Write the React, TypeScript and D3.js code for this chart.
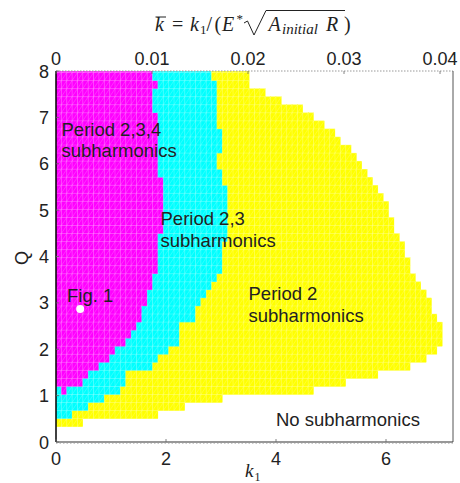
import React from 'react';
import * as d3 from 'd3';

// ---- data ----
const K1_MAX = 7.218;            // bottom axis limit (k1)
const KBAR_FACTOR = 174.55;      // k1 / kbar
const Q_MAX = 8;
const xTicksBottom = [0, 2, 4, 6];
const xTicksTop = [0, 0.01, 0.02, 0.03, 0.04];
const xTickTopLabels = ['0', '0.01', '0.02', '0.03', '0.04'];
const yTicks = [0, 1, 2, 3, 4, 5, 6, 7, 8];

// simulation grid
const N_COLS = 74;
const DK = K1_MAX / N_COLS;
const Q_START = 0.33;
const DQ = 0.17354;

// per Q-row (bottom -> top) column indices of region boundaries
const magStart = [0, 0, 0, 0, 1, 0, 0, 0, 0, 0, 0, 0, 0, 0, 0, 0, 0, 0, 0, 0, 0, 0, 0, 0, 0, 0, 0, 0, 0, 0, 0, 0, 0, 0, 0, 0, 0, 0, 0, 0, 0, 0, 0, 0, 0];
const magEnd = [0, 0, 0, 0, 2, 5, 6, 8, 10, 11, 13, 14, 15, 16, 16, 17, 17, 18, 18, 19, 19, 19, 19, 19, 20, 20, 20, 20, 20, 20, 20, 19, 19, 19, 19, 19, 19, 19, 19, 18, 18, 18, 19, 18, 18];
const cyanEnd = [0, 3, 6, 9, 12, 13, 13, 18, 19, 21, 23, 23, 23, 26, 26, 27, 28, 29, 30, 31, 31, 31, 31, 32, 32, 32, 32, 32, 32, 32, 31, 31, 30, 30, 31, 31, 31, 30, 30, 30, 30, 30, 30, 29, 29];
const yellowEnd = [5, 19, 24, 31, 48, 54, 60, 66, 69, 71, 72, 72, 72, 71, 70, 70, 69, 68, 67, 66, 66, 65, 65, 64, 63, 63, 62, 62, 61, 60, 59, 58, 57, 56, 55, 53, 52, 50, 48, 46, 42, 39, 36, 36, 36];

const COLORS = { mag: '#ff00ff', cyan: '#00ffff', yellow: '#ffff00' };

const figPoint = { k1: 0.44, q: 2.87 };

const labels = [
  { lines: ['Period 2,3,4', 'subharmonics'], k1: 0.1, q: 6.6 },
  { lines: ['Period 2,3', 'subharmonics'], k1: 1.9, q: 4.67 },
  { lines: ['Period 2', 'subharmonics'], k1: 3.5, q: 3.06 },
  { lines: ['No subharmonics'], k1: 4.0, q: 0.35 },
  { lines: ['Fig. 1'], k1: 0.2, q: 3.02 },
];

const L = 56, R = 453, T = 71, B = 442;

export default function App() {
  const x = d3.scaleLinear().domain([0, K1_MAX]).range([L, R]);
  const xTop = d3.scaleLinear().domain([0, K1_MAX / KBAR_FACTOR]).range([L, R]);
  const y = d3.scaleLinear().domain([0, Q_MAX]).range([B, T]);

  const cells: { x: number; y: number; w: number; h: number; c: string }[] = [];
  yellowEnd.forEach((ye, r) => {
    const q0 = Q_START + r * DQ;
    const q1 = Math.min(Q_MAX, q0 + DQ);
    for (let c = 0; c < ye; c++) {
      let col = COLORS.yellow;
      if (c < magStart[r]) col = COLORS.cyan;
      else if (c < magEnd[r]) col = COLORS.mag;
      else if (c < cyanEnd[r]) col = COLORS.cyan;
      const x0 = x(c * DK), x1 = x((c + 1) * DK);
      const y0 = y(q1), y1 = y(q0);
      cells.push({ x: x0, y: y0, w: x1 - x0, h: y1 - y0, c: col });
    }
  });

  const sans = 'Liberation Sans, Arial, Helvetica, sans-serif';
  const serif = 'Liberation Serif, Times New Roman, serif';

  return (
    <svg width={460} height={483} style={{ position: 'absolute', left: 0, top: 0, background: '#fff' }}
      xmlns="http://www.w3.org/2000/svg">
      <defs>
        <clipPath id="plotclip"><rect x={L} y={T} width={R - L} height={B - T} /></clipPath>
      </defs>
      <rect x={0} y={0} width={460} height={483} fill="#fff" />
      <g clipPath="url(#plotclip)">
        {cells.map((d, i) => (
          <rect key={i} x={d.x} y={d.y} width={d.w} height={d.h} fill={d.c} stroke={d.c} strokeWidth={0.3} />
        ))}
        {cells.map((d, i) => (
          <path key={'g' + i} d={`M${d.x},${d.y + d.h}L${d.x},${d.y}L${d.x + d.w},${d.y}M${d.x},${d.y + d.h}L${d.x + d.w},${d.y}`}
            fill="none" stroke="#fff" strokeOpacity={0.3} strokeWidth={0.6} />
        ))}
      </g>

      {/* axes box */}
      <line x1={L} x2={R} y1={T} y2={T} stroke="#999" strokeWidth={1} strokeDasharray="1.5,1.5" />
      <line x1={R} x2={R} y1={T} y2={B} stroke="#555" strokeWidth={1} />
      <line x1={L} x2={R} y1={B} y2={B} stroke="#333" strokeWidth={1.2} />
      <line x1={L} x2={R} y1={B + 1.5} y2={B + 1.5} stroke="#bbb" strokeWidth={0.8} strokeDasharray="1.5,2" />
      <line x1={L} x2={L} y1={T} y2={B} stroke="#000" strokeWidth={1.5} />

      {/* ticks */}
      {xTicksBottom.map(t => (
        <g key={'xb' + t}>
          <line x1={x(t)} x2={x(t)} y1={B} y2={B - 3} stroke="#666" strokeWidth={0.8} />
          <text x={x(t)} y={465} textAnchor="middle" fontFamily={sans} fontSize={18} fill="#222">{t}</text>
        </g>
      ))}
      {xTicksTop.map((t, i) => (
        <g key={'xt' + t}>
          <line x1={xTop(t)} x2={xTop(t)} y1={T} y2={T + 3} stroke="#666" strokeWidth={0.8} />
          <text x={xTop(t)} y={65} textAnchor="middle" fontFamily={sans} fontSize={18} fill="#222">{xTickTopLabels[i]}</text>
        </g>
      ))}
      {yTicks.map(t => (
        <g key={'y' + t}>
          <line x1={L} x2={L + 3} y1={y(t)} y2={y(t)} stroke="#666" strokeWidth={0.8} />
          <text x={49} y={y(t) + 6.5} textAnchor="end" fontFamily={sans} fontSize={18} fill="#222">{t}</text>
        </g>
      ))}

      {/* region labels */}
      {labels.map((lb, i) => (
        <text key={'lb' + i} x={x(lb.k1)} y={y(lb.q)} fontFamily={sans} fontSize={18.5} fill="#222">
          {lb.lines.map((ln, j) => (
            <tspan key={j} x={x(lb.k1)} dy={j === 0 ? 0 : 21.5}>{ln}</tspan>
          ))}
        </text>
      ))}
      <circle cx={x(figPoint.k1)} cy={y(figPoint.q)} r={4} fill="#fff" />

      {/* y label */}
      <text transform="translate(28,258) rotate(-90)" textAnchor="middle" fontFamily={sans} fontSize={18} fill="#222">Q</text>

      {/* x label */}
      <text x={245} y={477} fontFamily={serif} fontSize={19} fontStyle="italic" fill="#222">k</text>
      <text x={254.5} y={481} fontFamily={serif} fontSize={12} fill="#222">1</text>

      {/* title */}
      <g fontFamily={serif} fill="#222">
        <text x={155} y={31} fontSize={20} fontStyle="italic">k</text>
        <line x1={155.5} x2={166} y1={17} y2={17} stroke="#222" strokeWidth={1} />
        <text x={172} y={31} fontSize={20}>=</text>
        <text x={190} y={31} fontSize={20} fontStyle="italic">k</text>
        <text x={200} y={34} fontSize={13}>1</text>
        <text x={206.5} y={31} fontSize={20}>/</text>
        <text x={214.5} y={31} fontSize={20}>(</text>
        <text x={222} y={31} fontSize={20} fontStyle="italic">E</text>
        <text x={236.5} y={23} fontSize={13}>*</text>
        <path d="M244,23 L247.5,21 L254,35 L266,10.5 L345,10.5" fill="none" stroke="#222" strokeWidth={1} />
        <text x={268.5} y={31} fontSize={20} fontStyle="italic">A</text>
        <text x={282} y={34} fontSize={15} fontStyle="italic">initial</text>
        <text x={326} y={31} fontSize={20} fontStyle="italic">R</text>
        <text x={344} y={31} fontSize={20}>)</text>
      </g>
    </svg>
  );
}
